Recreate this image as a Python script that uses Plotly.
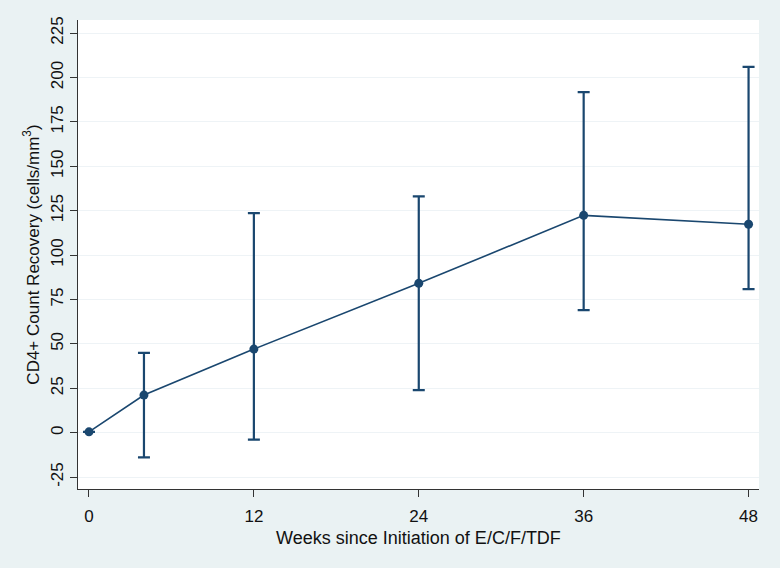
import plotly.graph_objects as go

weeks = [0, 4, 12, 24, 36, 48]
mean_cd4 = [0.5, 21.2, 47.1, 84.1, 122.4, 117.4]
upper_ci = [None, 45.0, 123.7, 133.1, 191.8, 206.0]
lower_ci = [None, -13.9, -3.9, 24.0, 69.0, 80.9]
x_ticks = [0, 12, 24, 36, 48]
y_ticks = [-25, 0, 25, 50, 75, 100, 125, 150, 175, 200, 225]

err_plus = [None if u is None else u - m for u, m in zip(upper_ci, mean_cd4)]
err_minus = [None if l is None else m - l for l, m in zip(lower_ci, mean_cd4)]

navy = "#1A476F"
bg = "#EAF2F3"

fig = go.Figure()
fig.add_trace(go.Scatter(
    x=weeks, y=mean_cd4, mode="lines+markers",
    line=dict(color=navy, width=1.6),
    marker=dict(color=navy, size=9),
    error_y=dict(type="data", symmetric=False,
                 array=err_plus, arrayminus=err_minus,
                 color=navy, thickness=2.2, width=6),
    showlegend=False,
))

fig.update_layout(
    width=780, height=568,
    margin=dict(l=78, r=21, t=20, b=79),
    paper_bgcolor=bg, plot_bgcolor="white",
    font=dict(family="Liberation Sans, Arial, sans-serif", size=17, color="#111111"),
    xaxis=dict(
        range=[-0.8, 48.76], tickvals=x_ticks, ticktext=[str(t) for t in x_ticks],
        showgrid=False, zeroline=False, showline=True, linecolor="#333333", linewidth=1.3,
        ticks="outside", ticklen=7, tickwidth=1.3, tickcolor="#333333",
        ticklabelstandoff=4,
        tickfont=dict(size=17),
        title=dict(text="Weeks since Initiation of E/C/F/TDF", standoff=6,
                   font=dict(size=18)),
        automargin=False,
    ),
    yaxis=dict(
        range=[-31.7, 232.4], tickvals=y_ticks, ticktext=[str(t) for t in y_ticks],
        tickangle=-90,
        showgrid=True, gridcolor="#EEF3F6", gridwidth=1.2, zeroline=False,
        showline=True, linecolor="#333333", linewidth=1.3,
        ticks="outside", ticklen=7, tickwidth=1.3, tickcolor="#333333",
        tickfont=dict(size=17),
        title=dict(text="CD4+ Count Recovery (cells/mm<sup>3</sup>)", standoff=4,
                   font=dict(size=17)),
        automargin=False,
    ),
)

fig.write_html("out.html", config={"displayModeBar": False},
               post_script="document.body.style.margin='0';document.body.style.background='#EAF2F3';")
